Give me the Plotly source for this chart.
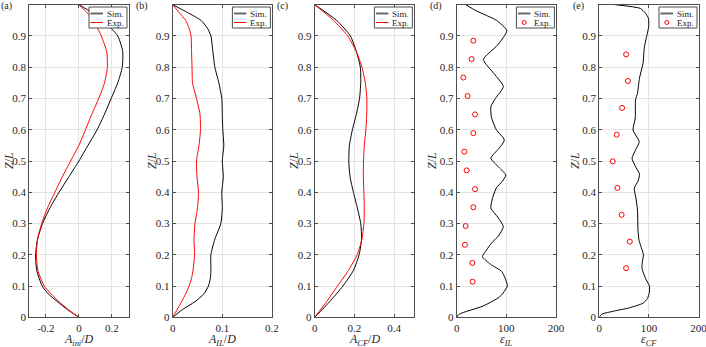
import plotly.graph_objects as go

# (a) A_ini/D
z_a = [0, 0.025, 0.05, 0.075, 0.1, 0.15, 0.2, 0.25, 0.3, 0.35, 0.4, 0.45, 0.5,
       0.55, 0.6, 0.65, 0.7, 0.75, 0.8, 0.85, 0.9, 0.95, 0.975, 1.0]
a_sim = [0, -0.07, -0.13, -0.185, -0.222, -0.255, -0.262, -0.25, -0.22, -0.175, -0.12,
         -0.06, 0.0, 0.055, 0.11, 0.155, 0.195, 0.235, 0.262, 0.265, 0.235, 0.145, 0.08, 0]
a_exp = [0, -0.065, -0.12, -0.168, -0.21, -0.248, -0.257, -0.25, -0.225, -0.19, -0.145,
         -0.1, -0.05, 0.0, 0.04, 0.078, 0.12, 0.155, 0.172, 0.168, 0.135, 0.088, 0.048, 0]

# (b) A_IL/D
z_b = [0, 0.025, 0.05, 0.075, 0.1, 0.125, 0.15, 0.2, 0.25, 0.3, 0.35, 0.4, 0.45, 0.5,
       0.55, 0.6, 0.65, 0.7, 0.75, 0.8, 0.85, 0.9, 0.925, 0.95, 0.975, 1.0]
b_sim = [0, 0.02, 0.045, 0.063, 0.072, 0.076, 0.077, 0.077, 0.085, 0.097, 0.1, 0.099,
         0.102, 0.1, 0.103, 0.101, 0.1, 0.099, 0.093, 0.085, 0.081, 0.077, 0.07, 0.057, 0.03, 0]
b_exp = [0, 0.009, 0.018, 0.026, 0.033, 0.038, 0.041, 0.044, 0.043, 0.045, 0.05, 0.052,
         0.049, 0.048, 0.053, 0.056, 0.055, 0.048, 0.04, 0.039, 0.038, 0.037, 0.033, 0.026, 0.013, 0]

# (c) A_CF/D
z_c = [0, 0.05, 0.1, 0.15, 0.2, 0.25, 0.3, 0.35, 0.4, 0.45, 0.5, 0.55, 0.6, 0.65,
       0.7, 0.75, 0.8, 0.85, 0.9, 0.95, 1.0]
c_sim = [0, 0.075, 0.142, 0.195, 0.224, 0.236, 0.232, 0.215, 0.195, 0.178, 0.172, 0.175,
         0.19, 0.21, 0.226, 0.232, 0.23, 0.21, 0.18, 0.11, 0]
c_exp = [0, 0.06, 0.115, 0.17, 0.214, 0.238, 0.248, 0.25, 0.248, 0.245, 0.246, 0.25,
         0.258, 0.262, 0.263, 0.255, 0.238, 0.21, 0.166, 0.095, 0]

# (d) eps_IL
z_d_sim = [0, 0.01, 0.036, 0.066, 0.1, 0.146, 0.17, 0.194, 0.215, 0.237, 0.26, 0.29, 0.32,
           0.349, 0.38, 0.414, 0.435, 0.455, 0.48, 0.509, 0.54, 0.567, 0.6, 0.64, 0.674,
           0.7, 0.738, 0.78, 0.825, 0.87, 0.917, 0.95, 0.98, 1.0]
d_sim = [0, 5, 53, 87, 102, 91, 68, 52, 60, 70, 84, 94, 83, 69, 72, 80, 92, 99, 85, 69, 85,
         96, 80, 70, 69, 78, 94, 75, 54, 82, 101, 80, 40, 18]
z_d_exp = [0.114, 0.174, 0.232, 0.292, 0.352, 0.41, 0.47, 0.53, 0.589, 0.649, 0.708,
           0.767, 0.826, 0.885]
d_exp = [32, 31.5, 16.6, 18, 33.5, 37, 20, 15.4, 33.5, 37, 22, 13.4, 30, 33.5]

# (e) eps_CF
z_e_sim = [0, 0.01, 0.02, 0.03, 0.045, 0.06, 0.08, 0.1, 0.125, 0.157, 0.18, 0.2, 0.247,
           0.279, 0.343, 0.38, 0.413, 0.435, 0.458, 0.485, 0.509, 0.535, 0.562, 0.599,
           0.637, 0.695, 0.717, 0.765, 0.812, 0.866, 0.93, 0.957, 0.975, 0.988, 1.0]
e_sim = [0, 5, 30, 60, 88, 97, 101, 101, 93, 86, 87, 89, 80, 78, 77, 74, 70.5, 78, 81, 72,
         66, 73, 80.5, 68, 72.5, 73, 77, 81, 88, 91, 99.5, 99, 92, 83, 32]
z_e_exp = [0.157, 0.242, 0.328, 0.414, 0.499, 0.584, 0.67, 0.756, 0.841]
e_exp = [54, 61.5, 45, 36.5, 27, 35, 46, 57.6, 54]

z_ticks = [0, 0.1, 0.2, 0.3, 0.4, 0.5, 0.6, 0.7, 0.8, 0.9, 1]
z_labels = ["0", "0.1", "0.2", "0.3", "0.4", "0.5", "0.6", "0.7", "0.8", "0.9", "1"]

panels = [
    dict(tag="(a)", z=(z_a, z_a), sim=a_sim, exp=a_exp, markers=False,
         rng=[-0.3, 0.3], tv=[-0.2, 0, 0.2], tt=["-0.2", "0", "0.2"],
         xt="<i>A<sub>ini</sub></i>/<i>D</i>"),
    dict(tag="(b)", z=(z_b, z_b), sim=b_sim, exp=b_exp, markers=False,
         rng=[0, 0.2], tv=[0, 0.1, 0.2], tt=["0", "0.1", "0.2"],
         xt="<i>A<sub>IL</sub></i>/<i>D</i>"),
    dict(tag="(c)", z=(z_c, z_c), sim=c_sim, exp=c_exp, markers=False,
         rng=[0, 0.5], tv=[0, 0.2, 0.4], tt=["0", "0.2", "0.4"],
         xt="<i>A<sub>CF</sub></i>/<i>D</i>"),
    dict(tag="(d)", z=(z_d_sim, z_d_exp), sim=d_sim, exp=d_exp, markers=True,
         rng=[0, 200], tv=[0, 100, 200], tt=["0", "100", "200"],
         xt="<i>ε<sub>IL</sub></i>"),
    dict(tag="(e)", z=(z_e_sim, z_e_exp), sim=e_sim, exp=e_exp, markers=True,
         rng=[0, 200], tv=[0, 100, 200], tt=["0", "100", "200"],
         xt="<i>ε<sub>CF</sub></i>"),
]

# layout in screen pixels (body margin removed in post_script);
# figure is a little wider than the window so the last "200" label is not dropped
W, H = 730, 347
lefts = [29.3, 172.7, 314.7, 456.7, 599.3]
pw = 99.2
top_px, bot_px = 4.7, 317.3
ytitle_x = [9, 152, 294, 432, 575]
tag_right = [13.5, 150, 289.5, 443.5, 585.5]
font = "Liberation Serif"
axcol = "#4d4d4d"
txtcol = "#262626"


def fx(p):
    return p / W


def fy(p):
    return 1 - p / H


fig = go.Figure()
layout = dict(width=W, height=H, margin=dict(l=0, r=0, t=0, b=0),
              paper_bgcolor="white", plot_bgcolor="white", showlegend=False,
              font=dict(family=font, size=11, color=txtcol))
annotations = []
shapes = []

for i, p in enumerate(panels):
    n = i + 1
    sfx = "" if n == 1 else str(n)
    fig.add_trace(go.Scatter(
        x=p["sim"], y=p["z"][0], mode="lines", name="Sim.",
        line=dict(color="black", width=1, shape="spline", smoothing=0.6),
        xaxis="x" + sfx, yaxis="y" + sfx))
    if p["markers"]:
        fig.add_trace(go.Scatter(
            x=p["exp"], y=p["z"][1], mode="markers", name="Exp.",
            marker=dict(symbol="circle-open", size=5, color="red", line=dict(width=1)),
            xaxis="x" + sfx, yaxis="y" + sfx))
    else:
        fig.add_trace(go.Scatter(
            x=p["exp"], y=p["z"][1], mode="lines", name="Exp.",
            line=dict(color="red", width=1, shape="spline", smoothing=0.6),
            xaxis="x" + sfx, yaxis="y" + sfx))

    common = dict(showline=True, linecolor=axcol, linewidth=1, mirror="allticks",
                  ticks="inside", ticklen=3, tickcolor=axcol, showgrid=True,
                  gridcolor="#e4e4e4", gridwidth=1, zeroline=False, automargin=False,
                  tickfont=dict(family=font, size=11, color=txtcol))
    layout["xaxis" + sfx] = dict(domain=[fx(lefts[i]), fx(lefts[i] + pw)], anchor="y" + sfx,
                                 range=p["rng"], tickvals=p["tv"], ticktext=p["tt"], **common)
    layout["yaxis" + sfx] = dict(domain=[fy(bot_px), fy(top_px)], anchor="x" + sfx,
                                 range=[0, 1], tickvals=z_ticks, ticktext=z_labels, **common)

    # axis titles and panel tag
    annotations.append(dict(text=p["xt"], x=fx(lefts[i] + pw / 2), y=fy(340),
                            xanchor="center", yanchor="middle",
                            xref="paper", yref="paper", showarrow=False,
                            font=dict(family=font, size=12, color=txtcol)))
    annotations.append(dict(text="<i>Z</i>/<i>L</i>", x=fx(ytitle_x[i]),
                            y=fy((top_px + bot_px) / 2), textangle=-90,
                            xanchor="center", yanchor="middle",
                            xref="paper", yref="paper", showarrow=False,
                            font=dict(family=font, size=12, color=txtcol)))
    annotations.append(dict(text=p["tag"], x=fx(tag_right[i]), y=fy(6.5),
                            xanchor="right", yanchor="middle",
                            xref="paper", yref="paper", showarrow=False,
                            font=dict(family=font, size=10, color=txtcol)))

    # legend box (MATLAB-style, compact)
    R = lefts[i] + pw - 1.5
    L = R - 38
    shapes.append(dict(type="rect", xref="paper", yref="paper", x0=fx(L), x1=fx(R),
                       y0=fy(28), y1=fy(7), line=dict(color=axcol, width=1),
                       fillcolor="white", layer="above"))
    shapes.append(dict(type="line", xref="paper", yref="paper", x0=fx(L + 1.5), x1=fx(L + 14),
                       y0=fy(13.5), y1=fy(13.5), line=dict(color="#6a6a6a", width=2),
                       layer="above"))
    if p["markers"]:
        cx, cy = L + 7.8, 22.5
        shapes.append(dict(type="circle", xref="paper", yref="paper",
                           x0=fx(cx - 2), x1=fx(cx + 2), y0=fy(cy + 2), y1=fy(cy - 2),
                           line=dict(color="red", width=1), layer="above"))
    else:
        shapes.append(dict(type="line", xref="paper", yref="paper", x0=fx(L + 1.5),
                           x1=fx(L + 14), y0=fy(22.5), y1=fy(22.5),
                           line=dict(color="red", width=1), layer="above"))
    for label, yy in (("Sim.", 13.5), ("Exp.", 22.5)):
        annotations.append(dict(text=label, x=fx(L + 15.5), y=fy(yy), xanchor="left",
                                yanchor="middle", xref="paper", yref="paper",
                                showarrow=False,
                                font=dict(family=font, size=9, color=txtcol)))

layout["annotations"] = annotations
layout["shapes"] = shapes
fig.update_layout(**layout)
fig.write_html("out.html", config={"displayModeBar": False},
               post_script="document.body.style.margin='0';"
                           "document.body.style.overflow='hidden';")
